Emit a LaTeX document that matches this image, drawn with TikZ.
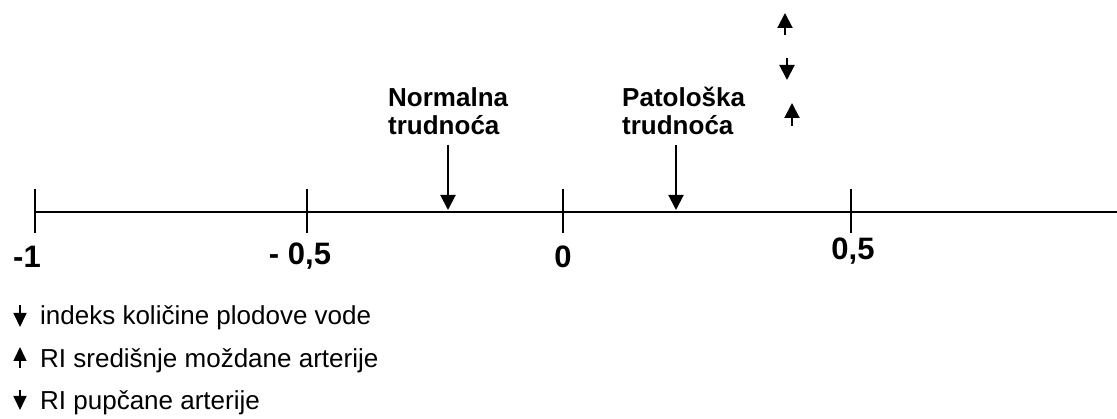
\documentclass[tikz,border=0pt]{standalone}
\usepackage{fontspec}
\setmainfont{Liberation Sans}
\usetikzlibrary{arrows.meta}
\begin{document}
\begin{tikzpicture}[x=1pt,y=-1pt,
  axislbl/.style={font=\fontsize{31}{33}\selectfont\bfseries, inner sep=0pt, anchor=base},
  casebox/.style={font=\fontsize{26}{28}\selectfont\bfseries, inner sep=0pt, anchor=north west, align=left},
  legtext/.style={font=\fontsize{26}{28}\selectfont, inner sep=0pt, anchor=base west},
  axisline/.style={line width=2.7pt},
  tickline/.style={line width=1.3pt},
  bigarrow/.style={line width=2pt, -{Triangle[width=15pt,length=15pt]}},
  smallarrow/.style={line width=1.6pt, -{Triangle[width=13pt,length=14pt]}},
]
\useasboundingbox (0,0) rectangle (1117,419);

% axis
\coordinate (axL) at (35,212);
\coordinate (axR) at (1117,212);
\draw[axisline] (axL) -- (axR);

% ticks
\foreach \n/\x in {m1/35, mh/307, z/563, ph/851}{
  \coordinate (t\n a) at (\x,189);
  \coordinate (t\n b) at (\x,233);
  \draw[tickline] (t\n a) -- (t\n b);
}

% tick labels
\node[axislbl] (lm1) at (27,268) {-1};
\node[axislbl] (lmh) at (300,265) {- 0,5};
\node[axislbl] (lz) at (563,268) {0};
\node[axislbl] (lph) at (853,260) {0,5};

% case labels
\node[casebox] (norm) at (388,87) {Normalna\\trudnoća};
\node[casebox] (pat) at (622,87) {Patološka\\trudnoća};

% case arrows
\coordinate (nTop) at (448,145);
\coordinate (nTip) at (448,210);
\coordinate (pTop) at (676,145);
\coordinate (pTip) at (676,210);
\draw[bigarrow] (nTop) -- (nTip);
\draw[bigarrow] (pTop) -- (pTip);

% arrows at top right
\coordinate (r1a) at (785,35);  \coordinate (r1b) at (785,13);
\coordinate (r2a) at (787,58);  \coordinate (r2b) at (787,80);
\coordinate (r3a) at (792,126); \coordinate (r3b) at (792,103);
\draw[bigarrow] (r1a) -- (r1b);
\draw[bigarrow] (r2a) -- (r2b);
\draw[bigarrow] (r3a) -- (r3b);

% legend
\coordinate (g1a) at (20,305); \coordinate (g1b) at (20,327);
\coordinate (g2a) at (20,368); \coordinate (g2b) at (20,347);
\coordinate (g3a) at (20,390); \coordinate (g3b) at (20,410);
\draw[smallarrow] (g1a) -- (g1b);
\draw[smallarrow] (g2a) -- (g2b);
\draw[smallarrow] (g3a) -- (g3b);
\node[legtext] (leg1) at (40,325) {indeks količine plodove vode};
\node[legtext] (leg2) at (40,368) {RI središnje moždane arterije};
\node[legtext] (leg3) at (40,410) {RI pupčane arterije};
\end{tikzpicture}
\end{document}
